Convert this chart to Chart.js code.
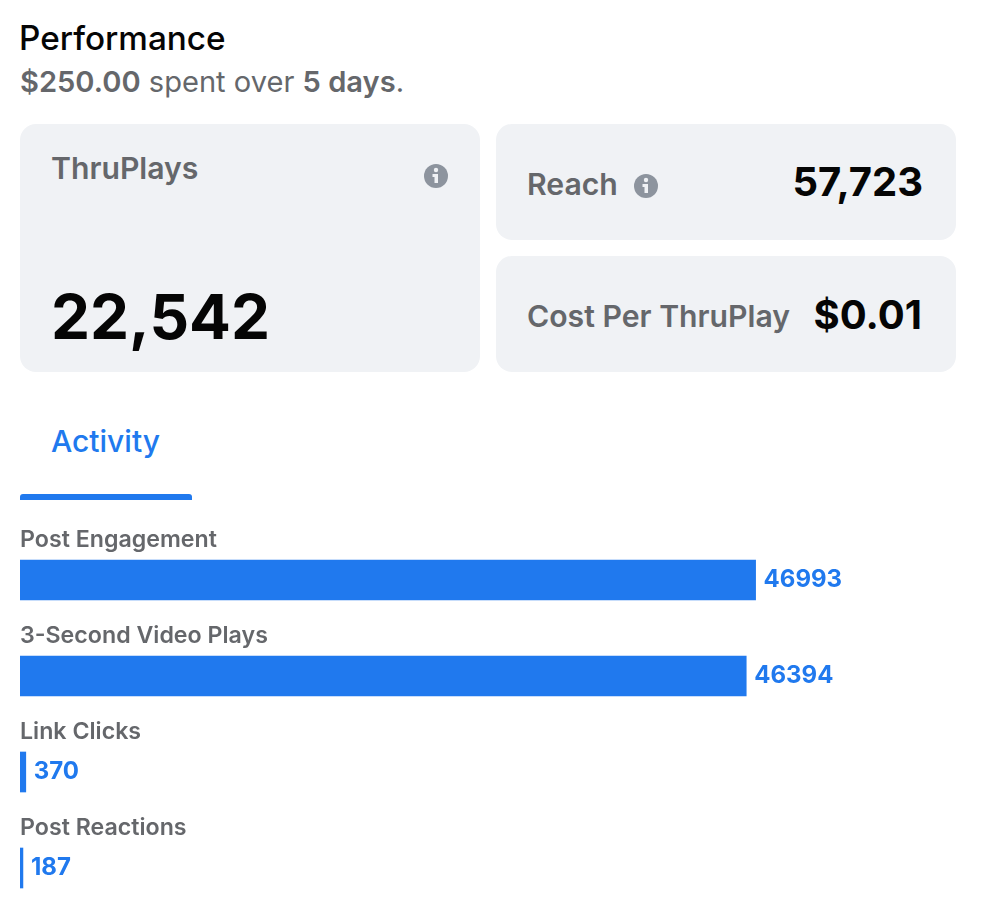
<!DOCTYPE html>
<html>
<head>
<meta charset="utf-8">
<script src="https://cdn.jsdelivr.net/npm/chart.js@4/dist/chart.umd.min.js"></script>
<style>
html, body { overflow: hidden; }
body { margin: 0; background: #fff; font-family: Inter, sans-serif; }
.t { position: absolute; white-space: nowrap; line-height: 1; }
.card { position: absolute; background: #f0f2f5; border-radius: 16px; width: 460px; }
.grey { color: #65676b; font-weight: 600; }
.big { color: #050505; font-weight: 700; }
.info { position: absolute; width: 24px; height: 24px; }
#chartBox { position: absolute; left: 20px; top: 516px; width: 940px; height: 400px; }
</style>
</head>
<body>
<div class="t" style="left:19px;top:22px;font-size:33.3px;font-weight:500;color:#050505">Performance</div>
<div class="t" style="left:20px;top:67px;font-size:29.1px;color:#65676b"><b style="font-weight:600">$250.00</b> spent over <b style="font-weight:600">5 days</b>.</div>

<div class="card" style="left:20px;top:124px;height:248px"></div>
<div class="card" style="left:496px;top:124px;height:116px"></div>
<div class="card" style="left:496px;top:256px;height:116px"></div>

<div class="t grey" style="left:51px;top:153px;font-size:30.2px">ThruPlays</div>
<svg class="info" style="left:424px;top:164px" viewBox="0 0 24 24"><circle cx="12" cy="12" r="12" fill="#8d949e"/><circle cx="12" cy="6" r="2.2" fill="#f0f2f5"/><path d="M8.5 10h5.5v9h-3.5v-6H8.5z" fill="#f0f2f5"/></svg>
<div class="t big" style="left:51px;top:286px;font-size:62px">22,542</div>

<div class="t grey" style="left:527px;top:169px;font-size:30.2px">Reach</div>
<svg class="info" style="left:634px;top:174px" viewBox="0 0 24 24"><circle cx="12" cy="12" r="12" fill="#8d949e"/><circle cx="12" cy="6" r="2.2" fill="#f0f2f5"/><path d="M8.5 10h5.5v9h-3.5v-6H8.5z" fill="#f0f2f5"/></svg>
<div class="t big" style="right:59px;top:162px;font-size:40px;">57,723</div>

<div class="t grey" style="left:527px;top:301px;font-size:30.2px">Cost Per ThruPlay</div>
<div class="t big" style="right:60px;top:295px;font-size:40px;">$0.01</div>

<div class="t" style="left:51px;top:426px;font-size:30px;font-weight:500;color:#2079ee">Activity</div>
<div style="position:absolute;left:20px;top:494px;width:172px;height:6px;background:#2079ee;border-radius:3px 3px 0 0"></div>

<div id="chartBox"><canvas id="activityChart"></canvas></div>

<script>
const categories = ["Post Engagement", "3-Second Video Plays", "Link Clicks", "Post Reactions"];
const activityValues = [46993, 46394, 370, 187];

// labels above and values right of each bar, positioned from the bar elements
const barText = {
    id: "barText",
    afterDatasetsDraw(chart) {
        const ctx = chart.ctx;
        const bars = chart.getDatasetMeta(0).data;
        ctx.save();
        ctx.textBaseline = "middle";
        bars.forEach((bar, i) => {
            ctx.font = "600 23.2px Inter, sans-serif";
            ctx.fillStyle = "#65676b";
            ctx.fillText(categories[i], 0, bar.y - 40);
            ctx.font = "700 24px Inter, sans-serif";
            ctx.fillStyle = "#2079ee";
            ctx.fillText(String(activityValues[i]), bar.x + 8, bar.y - 0.5);
        });
        ctx.restore();
    }
};

new Chart(document.getElementById("activityChart"), {
    type: "bar",
    data: {
        labels: categories,
        datasets: [{
            data: activityValues,
            backgroundColor: "#2079ee",
            barThickness: 40
        }]
    },
    options: {
        indexAxis: "y",
        responsive: true,
        maintainAspectRatio: false,
        animation: false,
        layout: { padding: { top: 16 } },
        plugins: { legend: { display: false }, tooltip: { enabled: false } },
        scales: {
            x: { display: false, min: 0, max: 60050 },
            y: { display: false }
        }
    },
    plugins: [barText]
});
</script>
</body>
</html>
